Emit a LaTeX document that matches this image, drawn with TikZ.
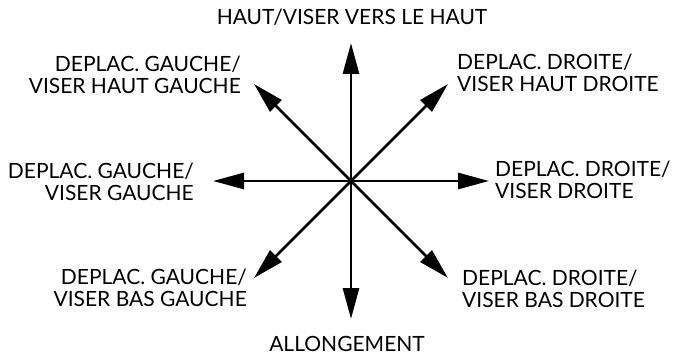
\documentclass[tikz,border=0pt]{standalone}
\usepackage{fontspec}
\setmainfont{Lato}
\usepackage{tikz}
\usetikzlibrary{arrows.meta}

\begin{document}
\begin{tikzpicture}[x=1pt, y=-1pt,
    ray/.style={-{Triangle[length=31pt, width=16pt]}, line width=2.8pt},
    every node/.style={font=\fontsize{21}{22}\selectfont, inner sep=0pt},
    lblwest/.style={anchor=east, align=right},
    lbleast/.style={anchor=west, align=left}]
    \useasboundingbox (0,0) rectangle (676,355);

    % centre and arrow tips
    \coordinate (c)  at (351,181);
    \coordinate (up) at (351,43);
    \coordinate (dn) at (351,319);
    \coordinate (lt) at (213,181);
    \coordinate (rt) at (489,181);
    \coordinate (ul) at (254,84);
    \coordinate (ur) at (448,84);
    \coordinate (dl) at (254,278);
    \coordinate (dr) at (448,278);

    \draw[ray] (c) -- (up);
    \draw[ray] (c) -- (dn);
    \draw[ray] (c) -- (lt);
    \draw[ray] (c) -- (rt);
    \draw[ray] (c) -- (ul);
    \draw[ray] (c) -- (ur);
    \draw[ray] (c) -- (dl);
    \draw[ray] (c) -- (dr);
    \fill (c) circle (2.8pt);

    % labels
    \node (haut)  at (352,17.5) {HAUT/VISER VERS LE HAUT};
    \node (allg)  at (347,343.5) {ALLONGEMENT};
    \node[lblwest] (gh) at (241,75)    {DEPLAC. GAUCHE/\\VISER HAUT GAUCHE};
    \node[lblwest] (gm) at (194,181.5) {DEPLAC. GAUCHE/\\VISER GAUCHE};
    \node[lblwest] (gb) at (247,288)   {DEPLAC. GAUCHE/\\VISER BAS GAUCHE};
    \node[lbleast] (dh) at (457,72.5)  {DEPLAC. DROITE/\\VISER HAUT DROITE};
    \node[lbleast] (dm) at (495,179.5) {DEPLAC. DROITE/\\VISER DROITE};
    \node[lbleast] (db) at (462,289)   {DEPLAC. DROITE/\\VISER BAS DROITE};
\end{tikzpicture}
\end{document}
